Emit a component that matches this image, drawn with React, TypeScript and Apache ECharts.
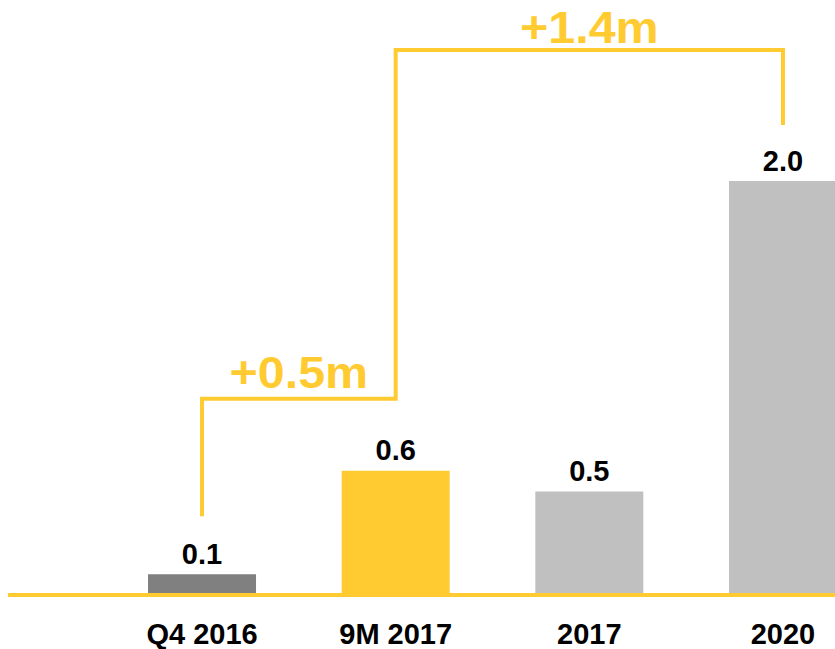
import React, { useEffect, useRef } from "react";
import * as echarts from "echarts";

const categories = ["Q4 2016", "9M 2017", "2017", "2020"];
const values = [0.1, 0.6, 0.5, 2.0];
const barColors = ["#808080", "#FFCB31", "#C0C0C0", "#C0C0C0"];
const deltaLabels = ["+0.5m", "+1.4m"];

const YELLOW = "#FFCB31";
const FONT = "'Liberation Sans', Arial, sans-serif";

export default function App() {
  const ref = useRef<HTMLDivElement>(null);
  useEffect(() => {
    document.body.style.margin = "0";
    const chart = echarts.init(ref.current!, null, { renderer: "svg" });
    chart.setOption({
      animation: false,
      grid: {
        left: 105.2,
        width: 774.6,
        top: 15.4,
        bottom: 54,
        containLabel: false,
        outerBoundsMode: "none",
      },
      xAxis: {
        type: "category",
        data: categories,
        axisLine: { show: false },
        axisTick: { show: false },
        axisLabel: {
          margin: 24,
          color: "#000",
          fontWeight: "bold",
          fontSize: 29,
          fontFamily: FONT,
        },
      },
      yAxis: {
        type: "value",
        min: 0,
        max: 2.8,
        show: false,
        splitLine: { show: false },
      },
      series: [
        {
          type: "bar",
          barWidth: 108,
          data: values.map((v, i) => ({ value: v, itemStyle: { color: barColors[i] } })),
          label: {
            show: true,
            position: "top",
            distance: 6,
            color: "#000",
            fontWeight: "bold",
            fontSize: 29,
            fontFamily: FONT,
            formatter: (p: any) => Number(p.value).toFixed(1),
          },
        },
      ],
    });

    const px = (cat: string, v: number) => chart.convertToPixel({ gridIndex: 0 }, [cat, v]) as number[];
    const [x0, y0] = px(categories[0], values[0]);
    const [x1, y1] = px(categories[1], values[1]);
    const [x3, y3] = px(categories[3], values[3]);
    const [, yBase] = px(categories[0], 0);
    const h1 = y1 - 72;
    const h2 = 50;

    chart.setOption({
      graphic: [
        {
          type: "line",
          shape: { x1: 8, y1: yBase, x2: 835, y2: yBase },
          style: { stroke: YELLOW, lineWidth: 4 },
          z: 10,
        },
        {
          type: "polyline",
          shape: {
            points: [
              [x0, y0 - 58],
              [x0, h1],
              [x1, h1],
              [x1, h2],
              [x3, h2],
              [x3, y3 - 56],
            ],
          },
          style: { stroke: YELLOW, lineWidth: 4, fill: null },
          z: 10,
        },
        {
          type: "text",
          x: (x0 + x1) / 2,
          y: h1 - 26,
          scaleX: 1.1,
          style: {
            text: deltaLabels[0],
            fill: YELLOW,
            font: `bold 44px ${FONT}`,
            align: "center",
            verticalAlign: "middle",
          },
          z: 10,
        },
        {
          type: "text",
          x: (x1 + x3) / 2,
          y: h2 - 22,
          scaleX: 1.1,
          style: {
            text: deltaLabels[1],
            fill: YELLOW,
            font: `bold 44px ${FONT}`,
            align: "center",
            verticalAlign: "middle",
          },
          z: 10,
        },
      ],
    });
    return () => chart.dispose();
  }, []);
  return <div ref={ref} style={{ width: 835, height: 649 }} />;
}
